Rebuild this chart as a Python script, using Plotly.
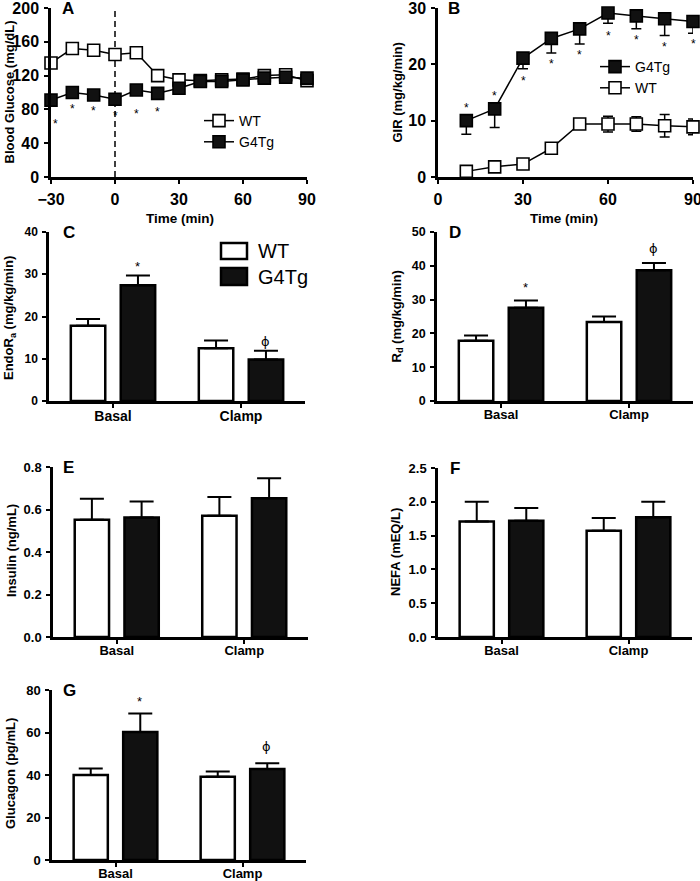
import plotly.graph_objects as go

# ---------------- data ----------------
time_a = [-30, -20, -10, 0, 10, 20, 30, 40, 50, 60, 70, 80, 90]
glucose_wt = [135, 152, 150, 145, 147, 120, 115, 114, 115, 116, 120, 121, 114]
glucose_g4 = [91, 100, 97, 92, 103, 99, 105, 113, 113, 115, 117, 118, 117]
star_time_a = [-28, -20, -10, 0, 10, 20]
star_y_a = [65, 83, 81, 75, 77, 79]

time_b = [10, 20, 30, 40, 50, 60, 70, 80, 90]
gir_g4 = [10.0, 12.1, 21.1, 24.6, 26.3, 29.1, 28.6, 28.1, 27.6]
gir_g4_err = [2.4, 3.3, 1.9, 2.6, 2.7, 1.8, 2.3, 3.0, 2.1]
gir_wt = [1.0, 1.8, 2.3, 5.1, 9.4, 9.4, 9.4, 9.1, 8.9]
gir_wt_err = [0.3, 0.4, 0.4, 0.8, 0.9, 1.4, 1.3, 2.0, 1.4]
star_y_b = [12.6, 14.8, 17.4, 20.5, 22.1, 25.4, 24.7, 23.5, 23.9]

groups = ["Basal", "Clamp"]
endo_wt = [17.8, 12.5]
endo_wt_err = [1.6, 1.8]
endo_g4 = [27.4, 9.8]
endo_g4_err = [2.3, 2.1]

rd_wt = [17.8, 23.4]
rd_wt_err = [1.6, 1.6]
rd_g4 = [27.6, 38.7]
rd_g4_err = [2.1, 2.1]

ins_wt = [0.552, 0.571]
ins_wt_err = [0.099, 0.088]
ins_g4 = [0.562, 0.653]
ins_g4_err = [0.076, 0.094]

nefa_wt = [1.71, 1.57]
nefa_wt_err = [0.29, 0.19]
nefa_g4 = [1.72, 1.77]
nefa_g4_err = [0.19, 0.23]

glc_wt = [40.0, 39.2]
glc_wt_err = [3.1, 2.4]
glc_g4 = [60.2, 42.8]
glc_g4_err = [8.8, 2.7]

# significance marks: (text, category index, y)
sig_c = [("*", 0, 32.2), ("\u03d5", 1, 14.0)]
sig_d = [("*", 0, 34.1), ("\u03d5", 1, 45.2)]
sig_g = [("*", 0, 75.3), ("\u03d5", 1, 53.2)]

# ---------------- layout helpers ----------------
W, H = 700, 881
FONT = "Liberation Sans"


def px(x):
    return x / W


def py(y):
    return 1 - y / H


fig = go.Figure()

panels = {
    # name: (x0, x1, ytop, ybottom)
    "1": (51, 307, 8, 177),
    "2": (438, 693, 8, 177),
    "3": (49, 305, 232, 401),
    "4": (437, 693, 232, 401),
    "5": (53, 308, 467, 637),
    "6": (438, 692, 468, 637),
    "7": (52, 306, 690, 860),
}
tick_sizes = {"1": 16, "2": 16, "3": 12, "4": 12.5, "5": 13, "6": 13, "7": 13}
cat_sizes = {"3": 14, "4": 13, "5": 13, "6": 13, "7": 13}

BLACK = "#000000"
FILL = "#111111"

# ---------- Panel A ----------
fig.add_trace(go.Scatter(
    x=time_a, y=glucose_wt, mode="lines+markers", name="WT",
    line=dict(color=BLACK, width=1.5),
    marker=dict(symbol="square", size=12, color="white", line=dict(color=BLACK, width=1.6)),
    xaxis="x", yaxis="y", legend="legend", cliponaxis=False))
fig.add_trace(go.Scatter(
    x=time_a, y=glucose_g4, mode="lines+markers", name="G4Tg",
    line=dict(color=BLACK, width=1.5),
    marker=dict(symbol="square", size=12, color=FILL, line=dict(color=BLACK, width=1.6)),
    xaxis="x", yaxis="y", legend="legend", cliponaxis=False))

# ---------- Panel B ----------
fig.add_trace(go.Scatter(
    x=time_b, y=gir_wt, mode="lines+markers", name="WT",
    line=dict(color=BLACK, width=1.5),
    marker=dict(symbol="square", size=12, color="white", line=dict(color=BLACK, width=1.6)),
    error_y=dict(type="data", array=gir_wt_err, color=BLACK, thickness=1.5, width=5),
    xaxis="x2", yaxis="y2", legend="legend2", legendrank=2, cliponaxis=False))
fig.add_trace(go.Scatter(
    x=time_b, y=gir_g4, mode="lines+markers", name="G4Tg",
    line=dict(color=BLACK, width=1.5),
    marker=dict(symbol="square", size=12, color=FILL, line=dict(color=BLACK, width=1.6)),
    error_y=dict(type="data", symmetric=False, array=[0] * len(gir_g4_err),
                 arrayminus=gir_g4_err, color=BLACK, thickness=1.5, width=5),
    xaxis="x2", yaxis="y2", legend="legend2", legendrank=1, cliponaxis=False))

# ---------- Bar panels ----------
bar_sets = [
    ("3", endo_wt, endo_wt_err, endo_g4, endo_g4_err),
    ("4", rd_wt, rd_wt_err, rd_g4, rd_g4_err),
    ("5", ins_wt, ins_wt_err, ins_g4, ins_g4_err),
    ("6", nefa_wt, nefa_wt_err, nefa_g4, nefa_g4_err),
    ("7", glc_wt, glc_wt_err, glc_g4, glc_g4_err),
]
for k, wt, wte, g4, g4e in bar_sets:
    for vals, errs, col, nm in ((wt, wte, "white", "WT"), (g4, g4e, FILL, "G4Tg")):
        fig.add_trace(go.Bar(
            x=groups, y=vals, name=nm, showlegend=False,
            marker=dict(color=col, line=dict(color=BLACK, width=2.5)),
            error_y=dict(type="data", symmetric=False, array=errs,
                         arrayminus=[0] * len(errs), color=BLACK, thickness=2, width=12),
            xaxis="x" + k, yaxis="y" + k))

# ---------- axes ----------
common = dict(showline=True, linecolor=BLACK, linewidth=2.5, ticks="outside",
              tickcolor=BLACK, tickwidth=2, ticklen=4, showgrid=False, zeroline=False,
              ticklabelstandoff=2, automargin=False, ticklabeloverflow="allow")

yranges = {"1": [0, 200], "2": [0, 30], "3": [0, 40], "4": [0, 50],
           "5": [0, 0.8], "6": [0, 2.5], "7": [0, 80]}
ydticks = {"1": 40, "2": 10, "3": 10, "4": 10, "5": 0.2, "6": 0.5, "7": 20}
yfmt = {"1": "", "2": "", "3": "", "4": "", "5": ".1f", "6": ".1f", "7": ""}

for k, (x0, x1, yt, yb) in panels.items():
    xa = "xaxis" if k == "1" else "xaxis" + k
    ya = "yaxis" if k == "1" else "yaxis" + k
    yref = "y" if k == "1" else "y" + k
    xref = "x" if k == "1" else "x" + k
    tf = dict(family=FONT, size=tick_sizes[k], color=BLACK, weight="bold")
    if k in ("1", "2"):
        xr = [-30, 90] if k == "1" else [0, 90]
        xticks = [-30, 0, 30, 60, 90] if k == "1" else [0, 30, 60, 90]
        fig.update_layout({xa: dict(common, domain=[px(x0), px(x1)], anchor=yref,
                                    range=xr, tickmode="array", tickvals=xticks,
                                    tickfont=tf)})
    else:
        fig.update_layout({xa: dict(common, domain=[px(x0), px(x1)], anchor=yref,
                                    type="category", range=[-0.5, 1.5],
                                    ticklabelstandoff=-4,
                                    tickfont=dict(family=FONT, size=cat_sizes[k],
                                                  color=BLACK, weight="bold"))})
    fig.update_layout({ya: dict(common, domain=[py(yb), py(yt)], anchor=xref,
                                range=yranges[k], tick0=0, dtick=ydticks[k],
                                tickformat=yfmt[k], tickfont=tf)})

fig.update_layout(barmode="group", bargap=0.22, bargroupgap=0.31)

# dashed line at time 0 in panel A
fig.add_shape(type="line", xref="x", yref="y domain", x0=0, x1=0, y0=0, y1=1,
              line=dict(color=BLACK, width=1.5, dash="6px,4px"), layer="below")

ann = []
# panel letters
letters = [("A", 60, 8), ("B", 446, 8), ("C", 61, 232), ("D", 447, 232),
           ("E", 61, 467), ("F", 448, 468), ("G", 61, 690)]
for t, lx, ly in letters:
    ann.append(dict(text=t, x=px(lx), y=py(ly - 11), xref="paper", yref="paper",
                    xanchor="left", yanchor="top", showarrow=False,
                    font=dict(family=FONT, size=17, color=BLACK, weight="bold")))

# y-axis titles
ytitles = [("Blood Glucose (mg/dL)", 9, 92.5), ("GIR (mg/kg/min)", 397, 92.5),
           ("EndoR<sub>a</sub> (mg/kg/min)", 10, 318), ("R<sub>d</sub> (mg/kg/min)", 397, 316.5),
           ("Insulin (ng/mL)", 11, 551), ("NEFA (mEQ/L)", 395, 552),
           ("Glucagon (pg/mL)", 10, 774)]
for t, tx, ty in ytitles:
    ann.append(dict(text=t, x=px(tx), y=py(ty), xref="paper", yref="paper",
                    xanchor="center", yanchor="middle", textangle=-90, showarrow=False,
                    font=dict(family=FONT, size=13, color=BLACK, weight="bold")))

# x titles
for tx in (180, 564):
    ann.append(dict(text="Time (min)", x=px(tx), y=py(218), xref="paper", yref="paper",
                    xanchor="center", yanchor="middle", showarrow=False,
                    font=dict(family=FONT, size=13.5, color=BLACK, weight="bold")))

# significance stars panel A and B
for sx, sy in zip(star_time_a, star_y_a):
    ann.append(dict(text="*", x=sx, y=sy, xref="x", yref="y", showarrow=False,
                    yshift=-2, font=dict(family=FONT, size=12, color=BLACK)))
for sx, sy in zip(time_b, star_y_b):
    ann.append(dict(text="*", x=sx, y=sy, xref="x2", yref="y2", showarrow=False,
                    yshift=-2, font=dict(family=FONT, size=12, color=BLACK)))

# significance marks on bars (G4Tg bar offset in category units)
G4_OFFSET = 0.19
for k, marks in (("3", sig_c), ("4", sig_d), ("7", sig_g)):
    for t, ci, sy in marks:
        ann.append(dict(text=t, x=ci + G4_OFFSET, y=sy, xref="x" + k, yref="y" + k,
                        showarrow=False, yshift=-2 if t == "*" else 0,
                        font=dict(family="DejaVu Sans" if t != "*" else FONT,
                                  size=13, color=BLACK)))

# bar legend in panel C (drawn boxes)
for (yt, yb, col) in ((243, 259, "white"), (268, 285, FILL)):
    fig.add_shape(type="rect", xref="paper", yref="paper", x0=px(221), x1=px(247),
                  y0=py(yb), y1=py(yt), fillcolor=col, line=dict(color=BLACK, width=2.5))
for t, ty in (("WT", 251), ("G4Tg", 277)):
    ann.append(dict(text=t, x=px(256), y=py(ty), xref="paper", yref="paper",
                    xanchor="left", yanchor="middle", showarrow=False,
                    font=dict(family=FONT, size=20, color=BLACK)))

fig.update_layout(annotations=ann)

legfont = dict(family=FONT, size=14, color=BLACK)
fig.update_layout(
    width=W, height=H, margin=dict(l=0, r=0, t=0, b=0, autoexpand=False),
    paper_bgcolor="white", plot_bgcolor="white",
    font=dict(family=FONT, color=BLACK),
    legend=dict(x=px(199), y=py(105), xanchor="left", yanchor="top", font=legfont,
                bgcolor="rgba(0,0,0,0)", tracegroupgap=0, itemwidth=30),
    legend2=dict(x=px(595), y=py(51), xanchor="left", yanchor="top", font=legfont,
                 bgcolor="rgba(0,0,0,0)", tracegroupgap=0, itemwidth=30),
)

fig.write_html("out.html", config={"displayModeBar": False},
               post_script="document.body.style.margin='0';document.body.style.overflow='hidden';")
